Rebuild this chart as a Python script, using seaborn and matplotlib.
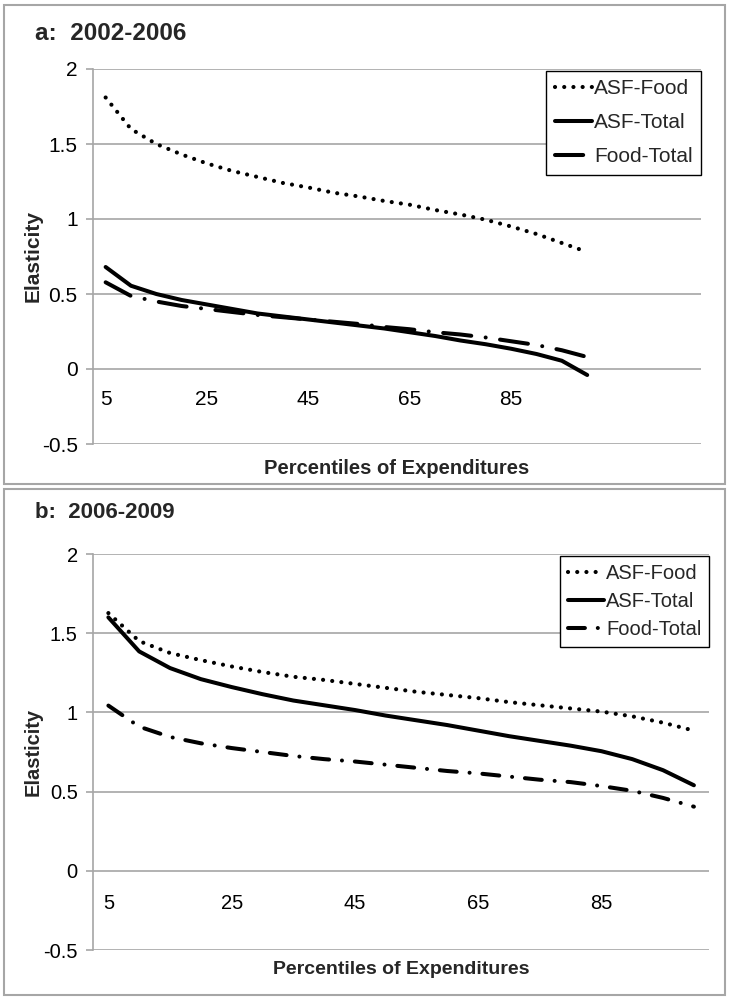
import matplotlib
matplotlib.use("Agg")
import matplotlib.pyplot as plt
from matplotlib.patches import Rectangle
from matplotlib.ticker import FuncFormatter
import seaborn as sns

# percentiles of expenditures (x categories)
pct = [5, 10, 15, 20, 25, 30, 35, 40, 45, 50, 55, 60, 65, 70, 75, 80, 85, 90, 95, 100]
x_ticks = [5, 25, 45, 65, 85]
y_ticks = [-0.5, 0, 0.5, 1, 1.5, 2]

# panel a: 2002-2006
a_asf_food = [1.81, 1.60, 1.50, 1.43, 1.37, 1.32, 1.28, 1.24, 1.21, 1.175,
              1.15, 1.12, 1.095, 1.06, 1.03, 0.995, 0.95, 0.90, 0.84, 0.78]
a_asf_total = [0.68, 0.555, 0.50, 0.46, 0.43, 0.40, 0.37, 0.35, 0.33, 0.31,
               0.29, 0.27, 0.245, 0.22, 0.19, 0.165, 0.135, 0.10, 0.055, -0.04]
a_food_total = [0.578, 0.487, 0.45, 0.42, 0.40, 0.38, 0.36, 0.345, 0.33, 0.315,
                0.30, 0.28, 0.265, 0.245, 0.23, 0.21, 0.185, 0.16, 0.125, 0.08]

# panel b: 2006-2009
b_asf_food = [1.627, 1.45, 1.375, 1.33, 1.29, 1.255, 1.225, 1.205, 1.18, 1.155,
              1.13, 1.11, 1.09, 1.065, 1.045, 1.025, 1.005, 0.975, 0.935, 0.885]
b_asf_total = [1.60, 1.385, 1.28, 1.21, 1.16, 1.115, 1.075, 1.045, 1.015, 0.98,
               0.95, 0.92, 0.885, 0.85, 0.82, 0.79, 0.755, 0.705, 0.635, 0.54]
b_food_total = [1.043, 0.91, 0.845, 0.805, 0.775, 0.75, 0.725, 0.705, 0.69, 0.67,
                0.65, 0.63, 0.615, 0.595, 0.575, 0.56, 0.535, 0.505, 0.46, 0.405]

series_names = ["ASF-Food", "ASF-Total", "Food-Total"]

sns.set_theme(style="white")
plt.rcParams["font.family"] = ["Liberation Sans", "DejaVu Sans"]

GRID = "#a6a6a6"

fig = plt.figure(figsize=(7.32, 10), dpi=100)

# outer frames around each panel
for y0, h in [(0.516, 0.479), (0.005, 0.506)]:
    fig.add_artist(Rectangle((0.0055, y0), 0.985, h, transform=fig.transFigure,
                             fill=False, edgecolor=GRID, lw=1.5))

ax_a = fig.add_axes([0.127, 0.556, 0.831, 0.375])
ax_b = fig.add_axes([0.127, 0.050, 0.842, 0.396])


def draw_panel(ax, values, xmax, dashdot, fs, leg_fs, leg_space, xlab_y, xpad):
    styles = [(0, (0.01, 2.2)), None, (0, dashdot)]
    widths = [3.0, 2.9, 2.9]
    for name, vals, st, lw in zip(series_names, values, styles, widths):
        sns.lineplot(x=pct, y=vals, ax=ax, color="black", linewidth=lw, label=name)
        line = ax.lines[-1]
        if st is not None:
            line.set_linestyle(st)
            line.set_dash_capstyle("round")
    ax.set_xlim(2.5, xmax)
    ax.set_ylim(-0.5, 2)
    ax.set_xticks(x_ticks)
    ax.set_yticks(y_ticks)
    ax.yaxis.set_major_formatter(FuncFormatter(lambda v, p: f"{v:g}"))
    ax.yaxis.grid(True, color=GRID, lw=1.2)
    ax.xaxis.grid(False)
    ax.set_axisbelow(True)
    for s in ["top", "right"]:
        ax.spines[s].set_visible(False)
    ax.spines["bottom"].set_position(("data", 0))
    ax.spines["bottom"].set_visible(False)
    ax.spines["left"].set_color(GRID)
    ax.spines["left"].set_linewidth(1.2)
    ax.tick_params(axis="x", length=0, pad=xpad, labelsize=fs, colors="black")
    ax.tick_params(axis="y", length=5, width=1.2, color=GRID, direction="out",
                   pad=6, labelsize=fs, left=True, labelcolor="black")
    ax.set_ylabel("Elasticity", fontsize=fs, fontweight="bold")
    ax.set_xlabel("Percentiles of Expenditures", fontsize=fs - 0.5, fontweight="bold")
    ax.xaxis.set_label_coords(0.5, xlab_y)
    ax.yaxis.set_label_coords(-0.082, 0.5)
    leg = ax.legend(loc="upper right", bbox_to_anchor=(1.0, 0.995), borderaxespad=0,
                    fontsize=leg_fs, frameon=True, fancybox=False, edgecolor="black",
                    framealpha=1, handlelength=1.8, handletextpad=0.1,
                    labelspacing=leg_space, borderpad=0.4)
    leg.get_frame().set_linewidth(1.0)


draw_panel(ax_a, [a_asf_food, a_asf_total, a_food_total], 122.5,
           (7.0, 3.6, 0.01, 3.6), 15, 15, 0.72, -0.04, 15)
draw_panel(ax_b, [b_asf_food, b_asf_total, b_food_total], 102.5,
           (4.2, 3.2, 0.01, 3.2), 14.5, 14.5, 0.45, -0.028, 17)

fig.text(0.048, 0.967, "a:  2002-2006", fontsize=17.5, fontweight="bold", va="center")
fig.text(0.048, 0.488, "b:  2006-2009", fontsize=16, fontweight="bold", va="center")

fig.savefig("out.png", dpi=100)
plt.close(fig)
